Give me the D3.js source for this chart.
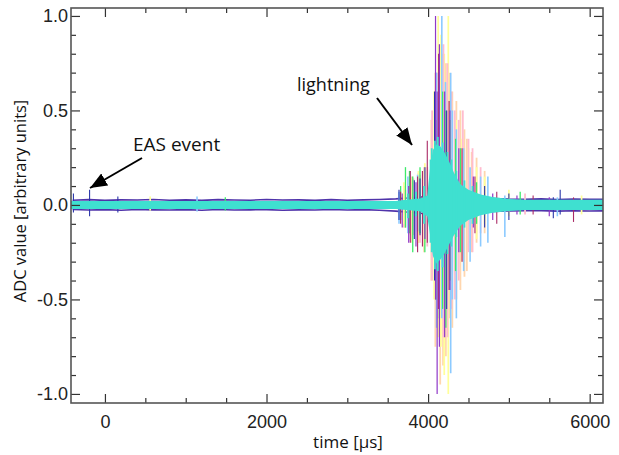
<!DOCTYPE html>
<html>
<head>
<meta charset="utf-8">
<script src="https://cdn.jsdelivr.net/npm/d3@7/dist/d3.min.js"></script>
<style>
  html, body { margin: 0; padding: 0; background: #fff; }
  svg { display: block; }
</style>
</head>
<body>
<svg id="chart" width="619" height="455"></svg>
<script>
// ---------------- DATA ----------------
const xMajorTicks = [0, 2000, 4000, 6000];
const yMajorTicks = [-1.0, -0.5, 0.0, 0.5, 1.0];

// baseline noise edges (dark blue/purple), sampled every 200 us
const edgeTime = [-400,-200,0,200,400,600,800,1000,1200,1400,1600,1800,2000,2200,2400,2600,2800,3000,3200,3400,3600,3800,4000,4200,4400,4600,4800,5000,5200,5400,5600,5800,6000,6200];
const edgeUpper = [0.025,0.028,0.024,0.027,0.026,0.029,0.025,0.027,0.024,0.028,0.026,0.025,0.029,0.026,0.027,0.024,0.028,0.025,0.027,0.029,0.032,0.038,0.045,0.050,0.045,0.038,0.034,0.031,0.030,0.032,0.029,0.031,0.030,0.030];
const edgeLower = [-0.024,-0.027,-0.025,-0.028,-0.024,-0.026,-0.027,-0.025,-0.028,-0.024,-0.027,-0.026,-0.025,-0.028,-0.026,-0.027,-0.024,-0.027,-0.025,-0.028,-0.033,-0.040,-0.048,-0.050,-0.046,-0.038,-0.034,-0.032,-0.031,-0.030,-0.033,-0.031,-0.032,-0.031];

// main cyan trace envelope
const cyanTime  = [-420, 3600, 3700, 3900, 3990, 4025, 4060, 4100, 4150, 4200, 4260, 4320, 4400, 4500, 4650, 4800, 5000, 5200, 6165];
const cyanUpper = [0.021,0.021,0.026,0.034,0.050,0.200,0.290,0.320,0.310,0.280,0.230,0.170,0.110,0.080,0.055,0.042,0.032,0.027,0.027];
const cyanLower = [-0.021,-0.021,-0.026,-0.034,-0.060,-0.160,-0.270,-0.310,-0.290,-0.260,-0.210,-0.160,-0.110,-0.080,-0.055,-0.042,-0.032,-0.027,-0.027];
// cyan spikes for ragged shape: [time, max, min]
const spikesCyan = [[3750,0.06,-0.07],[3850,0.07,-0.06],[3950,0.10,-0.10],[4030,0.24,-0.20],[4045,0.30,-0.25],[4085,0.34,-0.34],[4120,0.36,-0.35],[4180,0.33,-0.33],[4240,0.28,-0.26],[4290,0.24,-0.22],[4350,0.18,-0.17],[4450,0.13,-0.12],[4550,0.10,-0.10]];

// colored trace spikes: [time, max, min]
const spikesPurple = [[3680,0.06,-0.12],[3760,0.10,-0.20],[3850,0.12,-0.22],[3960,0.20,-0.18],[4092,1.0,-0.50],[4112,0.60,-1.0],[4140,0.85,-0.75],[4205,0.60,-0.70],[4270,0.50,-0.45],[4380,0.30,-0.25],[4560,0.15,-0.12],[4800,0.06,-0.08],[5100,0.05,-0.05],[5500,0.04,-0.06]];
const spikesYellow = [[560,0.045,-0.03],[3700,0.12,-0.10],[3780,0.14,-0.16],[3880,0.18,-0.20],[3960,0.22,-0.20],[4075,0.60,-0.50],[4125,1.0,-0.70],[4160,0.90,-0.75],[4200,0.80,-0.90],[4250,1.0,-1.0],[4290,0.55,-0.50],[4350,0.45,-0.40],[4420,0.35,-0.30],[4500,0.30,-0.20],[4600,0.20,-0.18],[4700,0.15,-0.10],[5000,0.08,-0.06],[5900,0.05,-0.05]];
const spikesLightBlue = [[1140,0.045,-0.035],[3640,0.07,-0.10],[3750,0.15,-0.15],[3870,0.16,-0.14],[4105,0.70,-0.65],[4170,1.0,-0.60],[4215,0.65,-0.55],[4280,0.70,-0.89],[4300,0.50,-0.50],[4350,0.40,-0.60],[4440,0.30,-0.35],[4520,0.20,-0.30],[4650,0.15,-0.22],[4740,0.15,-0.20],[4950,0.05,-0.17],[5600,0.04,-0.06]];
const spikesPeach = [[3700,0.10,-0.12],[3800,0.15,-0.20],[3880,0.17,-0.20],[3950,0.20,-0.25],[4040,0.45,-0.40],[4090,0.70,-0.75],[4150,0.85,-0.95],[4185,0.80,-0.85],[4220,0.75,-0.80],[4260,0.70,-0.60],[4300,0.60,-0.65],[4350,0.55,-0.50],[4400,0.50,-0.45],[4450,0.40,-0.38],[4480,0.35,-0.35],[4540,0.28,-0.25],[4600,0.25,-0.20],[4700,0.18,-0.15]];
const spikesPink = [[3720,0.08,-0.12],[3820,0.14,-0.16],[3900,0.16,-0.20],[3990,0.20,-0.22],[4050,0.50,-0.40],[4110,0.70,-0.60],[4190,0.85,-0.70],[4240,0.75,-0.70],[4290,0.60,-0.55],[4330,0.50,-0.50],[4380,0.45,-0.40],[4430,0.50,-0.30],[4500,0.35,-0.25],[4550,0.30,-0.25],[4650,0.20,-0.15],[5200,0.06,-0.05]];
const spikesGreen = [[1490,0.04,-0.03],[3660,0.10,-0.08],[3720,0.20,-0.12],[3770,0.18,-0.15],[3810,0.15,-0.25],[3900,0.20,-0.15],[3960,0.20,-0.25],[4095,0.45,-0.50],[4140,0.55,-0.60],[4180,0.60,-0.55],[4220,0.50,-0.65],[4270,0.45,-0.40],[4340,0.35,-0.35],[4400,0.30,-0.25],[4600,0.12,-0.10],[5140,0.07,-0.05]];
const spikesWine = [[3660,0.07,-0.10],[3780,0.18,-0.20],[3870,0.15,-0.25],[3930,0.18,-0.22],[3990,0.34,-0.20],[4130,0.80,-0.55],[4260,0.55,-0.45],[4420,0.30,-0.30],[4580,0.15,-0.15],[4850,0.07,-0.10],[5300,0.05,-0.05],[5800,0.04,-0.09]];
const spikesDarkBlue = [[-390,0.06,-0.04],[-190,0.08,-0.06],[160,0.045,-0.04],[3640,0.08,-0.08],[3830,0.13,-0.18],[3900,0.14,-0.16],[4080,0.60,-0.40],[4230,0.50,-0.55],[4700,0.10,-0.12],[5000,0.06,-0.08],[5550,0.04,-0.07],[5635,0.08,-0.05]];

// ---------------- LAYOUT ----------------
const svg = d3.select("#chart");
const L = 71, R = 603, T = 8, B = 403;
const x = d3.scaleLinear().domain([-420, 6165]).range([L, R]);
const y = d3.scaleLinear().domain([-1.048, 1.042]).range([B, T]);

const defs = svg.append("defs");
defs.append("clipPath").attr("id", "plotclip")
  .append("rect").attr("x", L).attr("y", T).attr("width", R - L).attr("height", B - T);

const plot = svg.append("g").attr("clip-path", "url(#plotclip)");

// edges
const edgeLine = d3.line().x((d, i) => x(edgeTime[i])).y(d => y(d));
plot.append("path").datum(edgeUpper).attr("d", edgeLine)
  .attr("fill", "none").attr("stroke", "#5034aa").attr("stroke-width", 1.6);
plot.append("path").datum(edgeLower).attr("d", edgeLine)
  .attr("fill", "none").attr("stroke", "#5034aa").attr("stroke-width", 1.6);

// spikes (pale traces first, thin darker traces on top)
const spikeSets = [
  [spikesPeach, "#ffd6ae", 1.8],
  [spikesYellow, "#ffff9a", 1.7],
  [spikesPink, "#ffbccf", 1.8],
  [spikesLightBlue, "#8ccaff", 1.6],
  [spikesGreen, "#3cea6a", 1.3],
  [spikesWine, "#aa2a66", 1.1],
  [spikesPurple, "#9038c8", 1.2],
  [spikesDarkBlue, "#2a36aa", 1.1]
];
spikeSets.forEach(([data, col, w]) => {
  plot.append("g").selectAll("line").data(data).join("line")
    .attr("x1", d => x(d[0])).attr("x2", d => x(d[0]))
    .attr("y1", d => y(d[1])).attr("y2", d => y(d[2]))
    .attr("stroke", col).attr("stroke-width", w);
});

// cyan main trace
const cyanArea = d3.area()
  .x((d, i) => x(cyanTime[i]))
  .y0((d, i) => y(cyanLower[i]))
  .y1(d => y(d));
plot.append("path").datum(cyanUpper).attr("d", cyanArea).attr("fill", "#3fe0d0");
plot.append("g").selectAll("line").data(spikesCyan).join("line")
  .attr("x1", d => x(d[0])).attr("x2", d => x(d[0]))
  .attr("y1", d => y(d[1])).attr("y2", d => y(d[2]))
  .attr("stroke", "#3fe0d0").attr("stroke-width", 1.8);

// ---------------- AXES ----------------
const minorX = [-500,500,1000,1500,2500,3000,3500,4500,5000,5500].filter(v => v >= -420 && v <= 6165);
const minorY = [-0.9,-0.8,-0.7,-0.6,-0.4,-0.3,-0.2,-0.1,0.1,0.2,0.3,0.4,0.6,0.7,0.8,0.9];
const tickColor = "#333";

function styleAxis(g) {
  g.select(".domain").remove();
  g.selectAll(".tick line").attr("stroke", tickColor).attr("stroke-width", 1.2);
  g.selectAll("text").attr("font-family", "'Liberation Sans', Arial, sans-serif")
    .attr("font-size", 18).attr("fill", "#222");
}

svg.append("g").attr("transform", `translate(0,${B})`)
  .call(d3.axisBottom(x).tickValues(xMajorTicks).tickFormat(d3.format("d")).tickSizeInner(-9).tickSizeOuter(0).tickPadding(12))
  .call(styleAxis);
svg.append("g").attr("transform", `translate(0,${B})`)
  .call(d3.axisBottom(x).tickValues(minorX).tickFormat("").tickSizeInner(-5).tickSizeOuter(0))
  .call(styleAxis);
svg.append("g").attr("transform", `translate(0,${T})`)
  .call(d3.axisTop(x).tickValues(xMajorTicks).tickFormat("").tickSizeInner(-9).tickSizeOuter(0))
  .call(styleAxis);
svg.append("g").attr("transform", `translate(0,${T})`)
  .call(d3.axisTop(x).tickValues(minorX).tickFormat("").tickSizeInner(-5).tickSizeOuter(0))
  .call(styleAxis);

svg.append("g").attr("transform", `translate(${L},0)`)
  .call(d3.axisLeft(y).tickValues(yMajorTicks).tickFormat(d => d.toFixed(1)).tickSizeInner(-9).tickSizeOuter(0).tickPadding(3))
  .call(styleAxis);
svg.append("g").attr("transform", `translate(${L},0)`)
  .call(d3.axisLeft(y).tickValues(minorY).tickFormat("").tickSizeInner(-5).tickSizeOuter(0))
  .call(styleAxis);
svg.append("g").attr("transform", `translate(${R},0)`)
  .call(d3.axisRight(y).tickValues(yMajorTicks).tickFormat("").tickSizeInner(-9).tickSizeOuter(0))
  .call(styleAxis);
svg.append("g").attr("transform", `translate(${R},0)`)
  .call(d3.axisRight(y).tickValues(minorY).tickFormat("").tickSizeInner(-5).tickSizeOuter(0))
  .call(styleAxis);

// frame
svg.append("rect").attr("x", L).attr("y", T).attr("width", R - L).attr("height", B - T)
  .attr("fill", "none").attr("stroke", "#555").attr("stroke-width", 1.6);

// axis titles
const titleFont = "'Open Sans', 'Noto Sans', sans-serif";
svg.append("text").attr("x", 348).attr("y", 448).attr("text-anchor", "middle")
  .attr("font-family", titleFont).attr("font-size", 17).attr("fill", "#111").text("time [µs]");
svg.append("text").attr("transform", "translate(26,201) rotate(-90)").attr("text-anchor", "middle")
  .attr("font-family", titleFont).attr("font-size", 16.5).attr("fill", "#111").text("ADC value [arbitrary units]");

// annotations
defs.append("marker").attr("id", "ah")
  .attr("markerUnits", "userSpaceOnUse").attr("markerWidth", 18).attr("markerHeight", 14)
  .attr("refX", 17).attr("refY", 7).attr("orient", "auto")
  .append("path").attr("d", "M0,0 L17,7 L0,14 Z").attr("fill", "#000");

svg.append("text").attr("x", 133).attr("y", 151).attr("font-family", titleFont)
  .attr("font-size", 19).attr("fill", "#111").text("EAS event");
svg.append("line").attr("x1", 142).attr("y1", 158).attr("x2", 90).attr("y2", 188)
  .attr("stroke", "#000").attr("stroke-width", 2).attr("marker-end", "url(#ah)");

svg.append("text").attr("x", 297).attr("y", 91).attr("font-family", titleFont)
  .attr("font-size", 18).attr("fill", "#111").text("lightning");
svg.append("line").attr("x1", 377).attr("y1", 98).attr("x2", 412).attr("y2", 145)
  .attr("stroke", "#000").attr("stroke-width", 2).attr("marker-end", "url(#ah)");
</script>
</body>
</html>
